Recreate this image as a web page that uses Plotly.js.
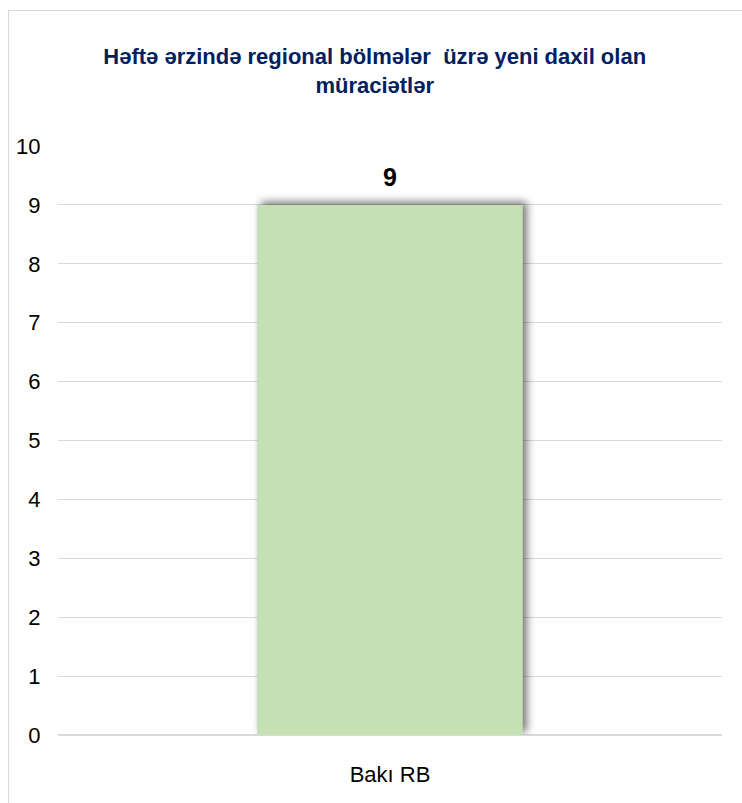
<!DOCTYPE html>
<html>
<head>
<meta charset="utf-8">
<script src="https://cdn.plot.ly/plotly-3.0.1.min.js"></script>
<style>
  body { margin: 0; background: #fff; }
  #frame { position: absolute; left: 8px; top: 10px; width: 760px; height: 820px;
           border: 1px solid #d9d9d9; pointer-events: none; }
  #graph { position: absolute; left: 0; top: 0; width: 742px; height: 803px; }
</style>
</head>
<body>
<div id="graph"></div>
<div id="frame"></div>
<script>
var categories = ['Bakı RB'];
var values = [9];
var labels = ['9'];

var font = '"Liberation Sans Narrow", "Arial Narrow", "Liberation Sans", Arial, sans-serif';

var trace = {
    type: 'bar',
    x: categories,
    y: values,
    marker: { color: '#c5e0b4', line: { width: 0 } },
    width: 0.4,
    hoverinfo: 'x+y'
};

// value labels sit a bit above the bar top
var annotations = categories.map(function (c, i) {
    return {
        x: c,
        y: values[i],
        text: '<b>' + labels[i] + '</b>',
        showarrow: false,
        yanchor: 'bottom',
        yshift: 12,
        font: { family: font, size: 25, color: '#000' }
    };
});

var layout = {
    width: 742,
    height: 803,
    margin: { l: 58, r: 20, t: 146, b: 68 },
    paper_bgcolor: '#fff',
    plot_bgcolor: '#fff',
    title: {
        text: '<b>Həftə ərzində regional bölmələr  üzrə yeni daxil olan<br>müraciətlər</b>',
        font: { family: font, size: 22, color: '#002060' },
        x: 0.505,
        xanchor: 'center',
        y: 0.92,
        yanchor: 'top'
    },
    xaxis: {
        showgrid: false,
        showline: false,
        tickfont: { family: font, size: 22, color: '#000' },
        ticks: 'outside',
        ticklen: 20,
        tickcolor: 'rgba(0,0,0,0)'
    },
    yaxis: {
        range: [0, 10],
        dtick: 1,
        showgrid: true,
        gridcolor: '#d9d9d9',
        gridwidth: 1,
        zeroline: true,
        zerolinecolor: '#d9d9d9',
        zerolinewidth: 2,
        showline: false,
        tickfont: { family: font, size: 22, color: '#000' },
        ticks: 'outside',
        ticklen: 12,
        tickcolor: 'rgba(0,0,0,0)'
    },
    annotations: annotations,
    showlegend: false
};

Plotly.newPlot('graph', [trace], layout, { displayModeBar: false, staticPlot: true }).then(function () {
    document.querySelectorAll('#graph .bars .point path').forEach(function (p) {
        p.style.filter = 'drop-shadow(4px -3px 4px rgba(0,0,0,0.55))';
    });
});
</script>
</body>
</html>
